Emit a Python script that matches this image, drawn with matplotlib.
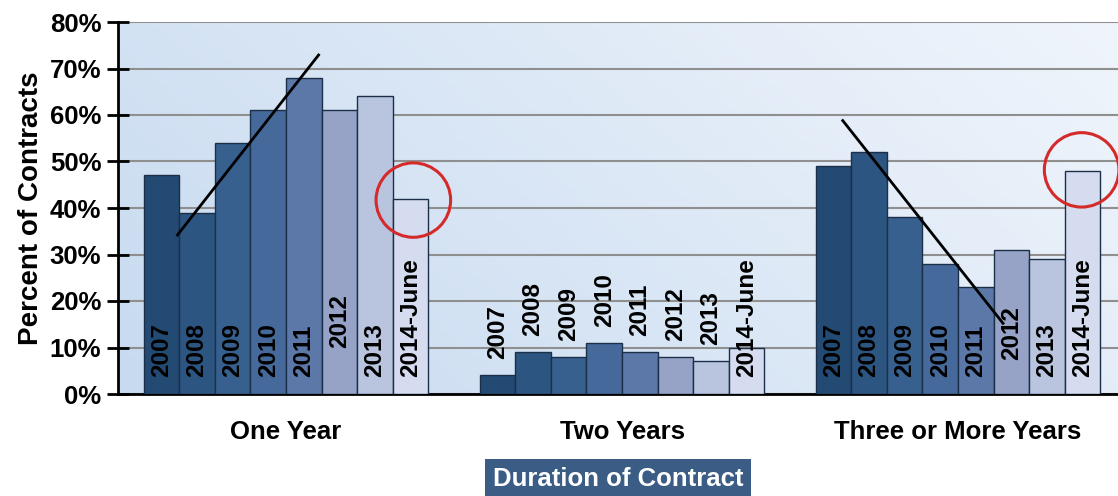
import numpy as np
import matplotlib.pyplot as plt
from matplotlib.patches import Ellipse

plt.rcParams['font.family'] = ['Liberation Sans', 'DejaVu Sans']
plt.rcParams['font.weight'] = 'bold'

groups = ['One Year', 'Two Years', 'Three or More Years']
years = ['2007', '2008', '2009', '2010', '2011', '2012', '2013', '2014-June']
one_year = [47, 39, 54, 61, 68, 61, 64, 42]
two_years = [4, 9, 8, 11, 9, 8, 7, 10]
three_plus = [49, 52, 38, 28, 23, 31, 29, 48]
series = [one_year, two_years, three_plus]

colors = ['#234a72', '#2c5581', '#37608f', '#45699a', '#5b78a8',
          '#97a3c6', '#b9c5de', '#d5dcef']

fig = plt.figure(figsize=(11.18, 4.96), dpi=100)
ax = fig.add_axes([118 / 1118, 102 / 496, 1008 / 1118, 372 / 496])
ax.set_xlim(-0.5, 2.5)
ax.set_ylim(0, 80)

# background gradient, blue at top left fading to white on the right
gx = np.linspace(0, 1, 200)
gy = np.linspace(0, 1, 60)
X, Y = np.meshgrid(gx, gy)
g = np.clip(0.6 * X + 0.25 * (1 - Y), 0, 1)
top = np.array([0.78, 0.855, 0.94])
white = np.array([0.97, 0.98, 0.995])
img = top[None, None, :] * (1 - g[..., None]) + white[None, None, :] * g[..., None]
ax.imshow(img, extent=[-0.5, 2.5, 0, 80], aspect='auto', origin='upper', zorder=0)

ax.yaxis.grid(True, color='#8f8f8f', lw=1.5, zorder=1)
ax.set_axisbelow(True)

n = len(years)
w = 0.106
x = np.arange(len(groups))
for i in range(n):
    vals = [s[i] for s in series]
    pos = x - w * (n - 1) / 2 + i * w
    ax.bar(pos, vals, width=w, color=colors[i], edgecolor='#1c2f48', lw=1.0, zorder=3)
    for gi, (p, v) in enumerate(zip(pos, vals)):
        if gi == 1 and i < n - 1:
            y0 = v + 3.5
        else:
            y0 = 3.7
            if i == 5:
                y0 = 9.9 if gi == 0 else 7.3
        ax.text(p, y0, years[i], rotation=90, ha='center', va='bottom',
                fontsize=17.5, fontweight='bold', color='black', zorder=5)

# trend lines
ax.plot([-0.323, 0.097], [34.2, 72.9], color='black', lw=2, zorder=6)
ax.plot([1.657, 2.134], [58.8, 15.2], color='black', lw=2, zorder=6)

# red circles
for cx, cy in [(0.379, 41.7), (2.368, 48.2)]:
    ax.add_patch(Ellipse((cx, cy), 0.222, 16.0, fill=False, ec='#d42a2a', lw=2.2, zorder=7))

ax.set_yticks(range(0, 81, 10))
ax.set_yticklabels([f'{t}%' for t in range(0, 81, 10)], fontsize=18.5, fontweight='bold')
ax.tick_params(axis='y', direction='inout', length=16, width=2, pad=4)
ax.set_xticks(x)
ax.set_xticklabels(groups, fontsize=18.5, fontweight='bold')
ax.tick_params(axis='x', length=0, pad=19)
ax.set_ylabel('Percent of Contracts', fontsize=20, fontweight='bold', labelpad=4)

for s in ['top', 'right']:
    ax.spines[s].set_visible(False)
ax.spines['left'].set_linewidth(2)
ax.spines['bottom'].set_linewidth(2)

fig.text(618 / 1118, 1 - 479 / 496, 'Duration of Contract', ha='center', va='center',
         fontsize=18.5, fontweight='bold', color='white',
         bbox=dict(boxstyle='square,pad=0.3', fc='#3a5c85', ec='none'))

fig.savefig('out.png', dpi=100)
